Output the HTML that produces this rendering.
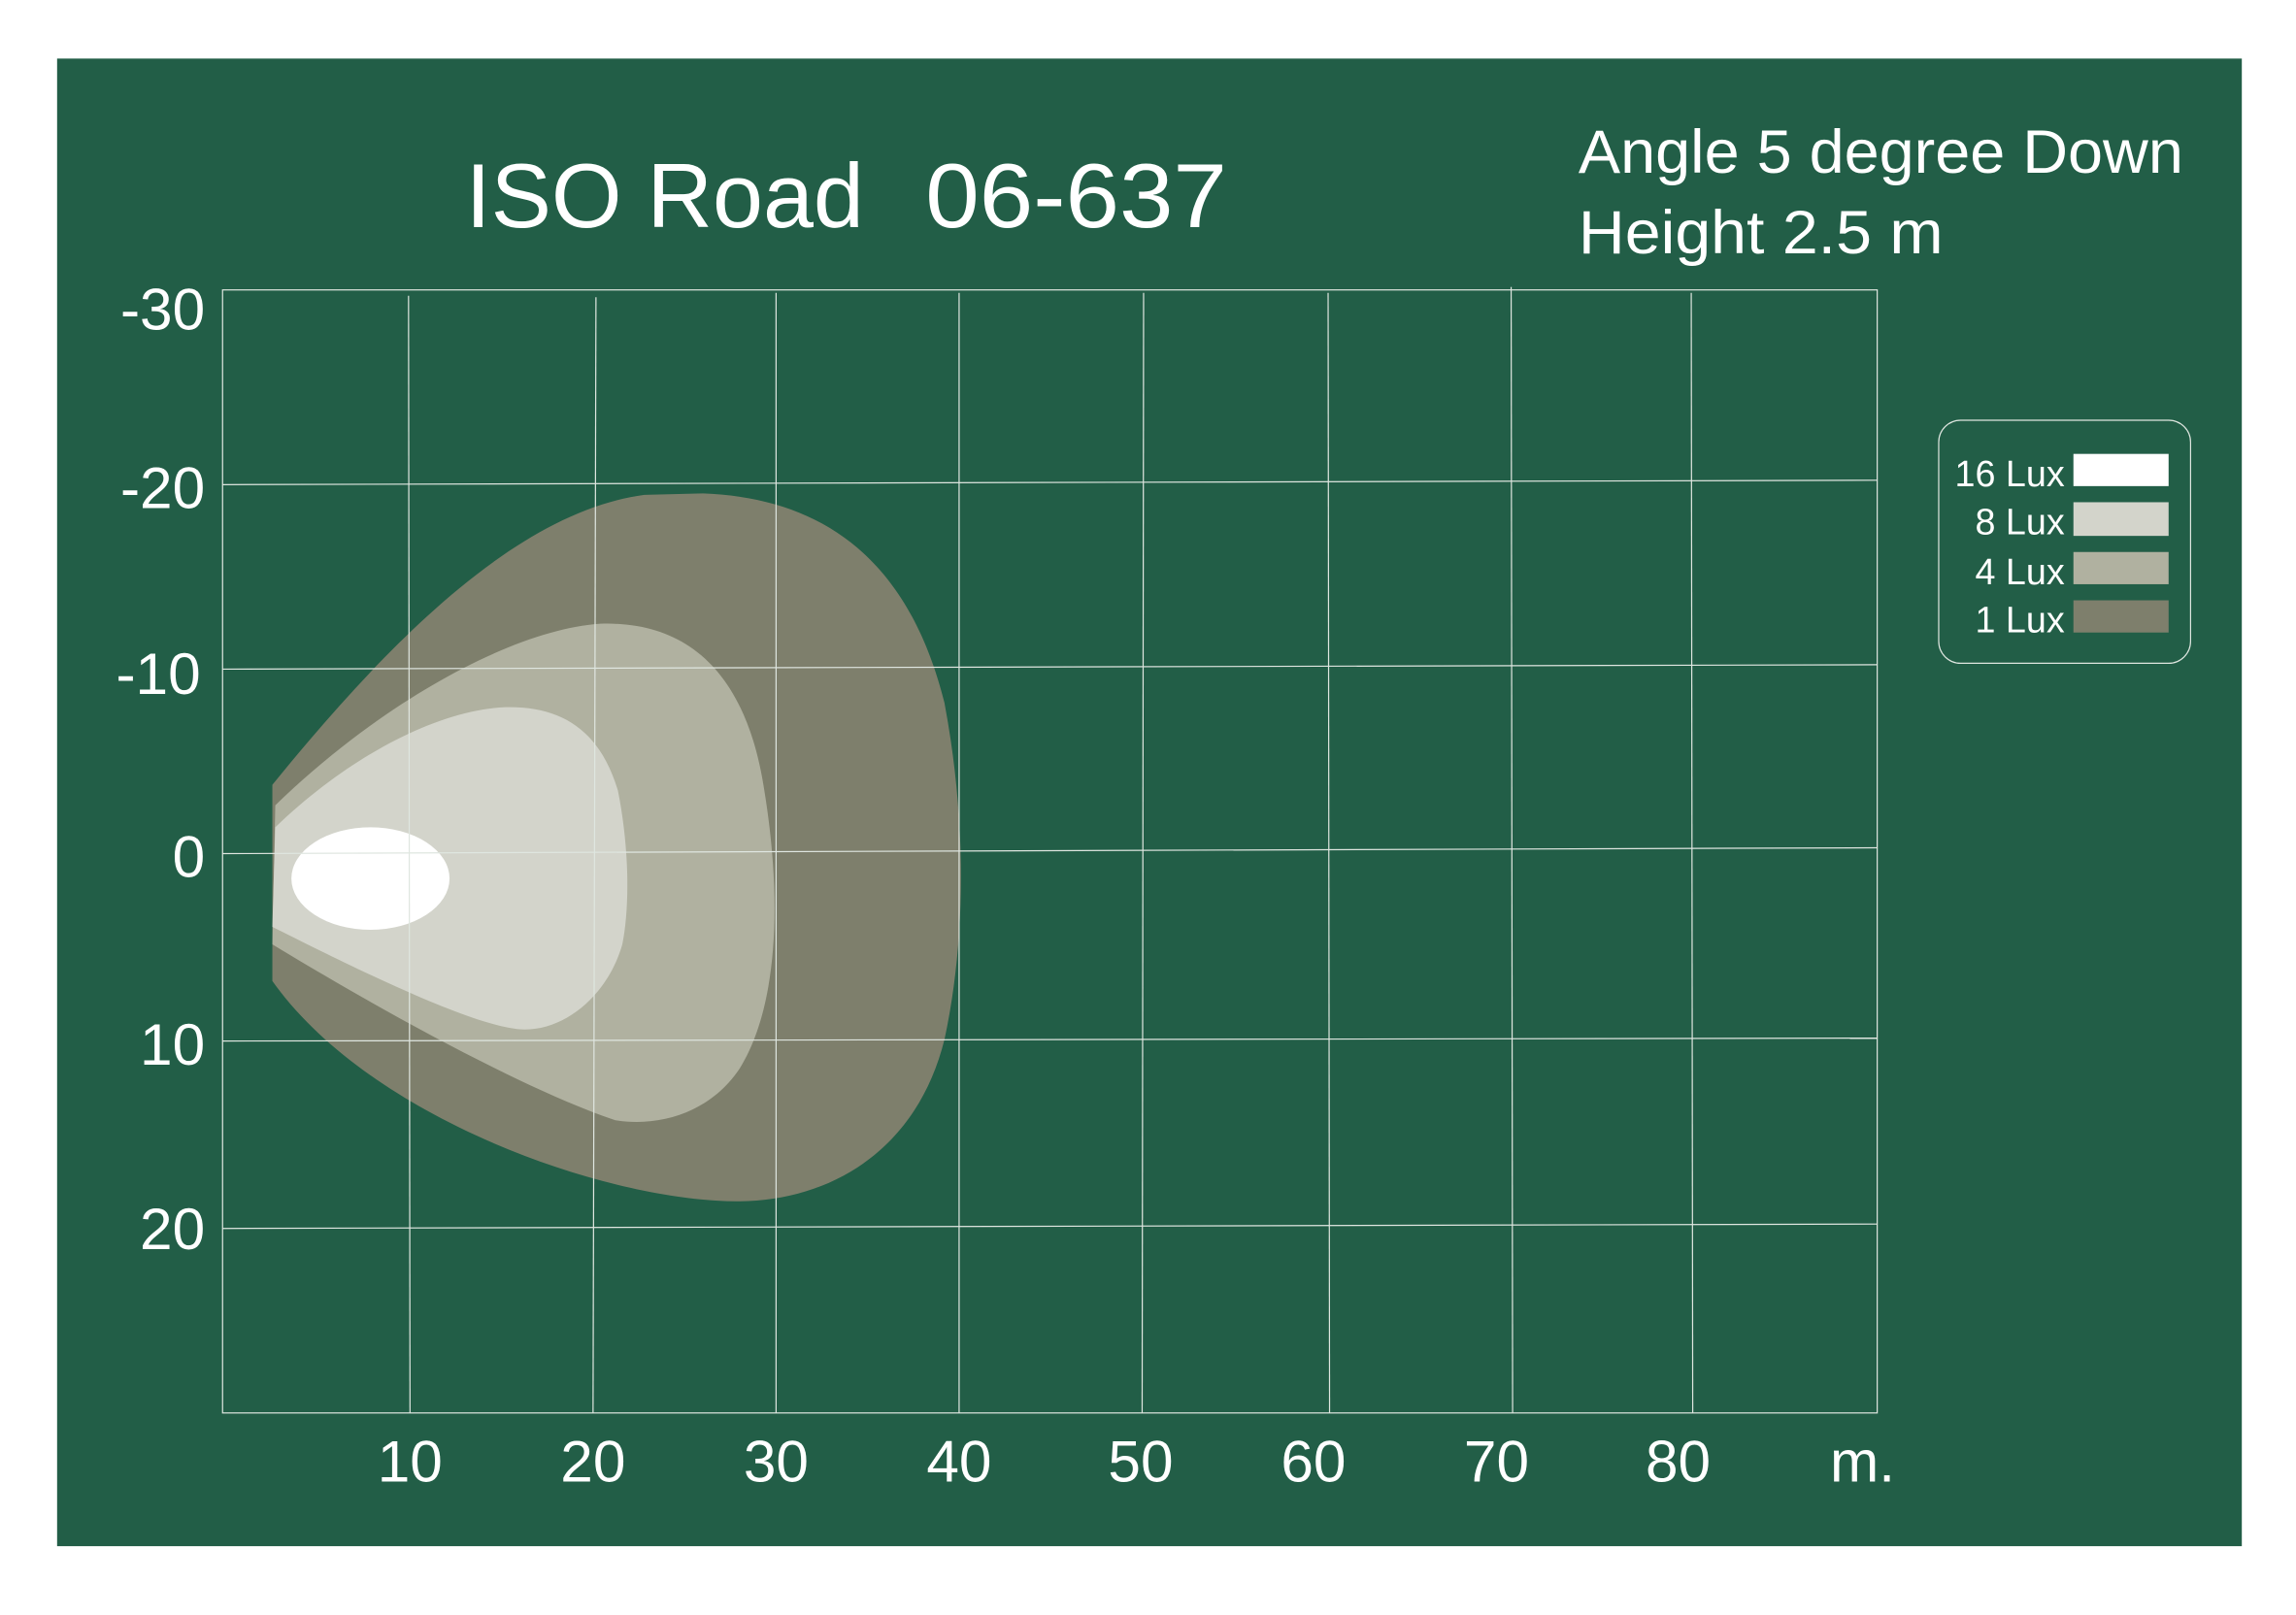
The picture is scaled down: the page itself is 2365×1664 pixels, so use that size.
<!DOCTYPE html>
<html><head><meta charset="utf-8"><style>
html,body{margin:0;padding:0;background:#fff;}
svg{display:block;}
text{font-family:"Liberation Sans","DejaVu Sans",sans-serif;fill:#fff;}
</style></head><body>
<svg width="2365" height="1664" viewBox="0 0 1568 1103" preserveAspectRatio="none" xmlns="http://www.w3.org/2000/svg">
<rect x="0" y="0" width="1568" height="1103" fill="#fff"/>
<rect x="39" y="40" width="1492" height="1016" fill="#225e47"/>
<path d="M186,536 C260,445 350,350 440,338 L480,337 C560,340 620,380 645,480 C660,560 660,640 645,710 C625,790 560,825 490,820 C400,815 250,760 186,670 Z" fill="#7e7f6c"/>
<path d="M188,550 C260,480 350,430 410,426 C470,424 510,460 522,540 C535,620 530,690 505,730 C485,760 450,770 420,765 C360,745 260,690 186,645 Z" fill="#b0b1a0"/>
<path d="M188,565 C240,515 300,485 345,483 C385,482 410,500 422,540 C430,580 430,620 425,645 C415,680 385,705 355,703 C320,700 240,660 186,633 Z" fill="#d3d4cb"/>
<ellipse cx="253" cy="600" rx="54" ry="35" fill="#fff"/>
<g stroke="#dfe6e0" stroke-width="0.8" fill="none">
<rect x="152" y="198" width="1130" height="767"/>
<line x1="152" y1="331" x2="1282" y2="328"/>
<line x1="152" y1="457" x2="1282" y2="454"/>
<line x1="152" y1="583" x2="1282" y2="579"/>
<line x1="152" y1="711" x2="1282" y2="709"/>
<line x1="152" y1="839" x2="1282" y2="836"/>
<line x1="279" y1="202" x2="280" y2="965"/>
<line x1="407" y1="203" x2="405" y2="965"/>
<line x1="530" y1="200" x2="530" y2="965"/>
<line x1="655" y1="200" x2="655" y2="965"/>
<line x1="781" y1="200" x2="780" y2="965"/>
<line x1="907" y1="200" x2="908" y2="965"/>
<line x1="1032" y1="196" x2="1033" y2="965"/>
<line x1="1155" y1="200" x2="1156" y2="965"/>
</g>
<text x="318" y="155" font-size="62" textLength="272" lengthAdjust="spacingAndGlyphs">ISO Road</text>
<text x="632" y="155" font-size="62" textLength="206" lengthAdjust="spacingAndGlyphs">06-637</text>
<text x="1078" y="118" font-size="42" textLength="413" lengthAdjust="spacingAndGlyphs">Angle 5 degree Down</text>
<text x="1078" y="173" font-size="42" textLength="249" lengthAdjust="spacingAndGlyphs">Height 2.5 m</text>
<g font-size="40" text-anchor="end">
<text x="140" y="225">-30</text>
<text x="140" y="347">-20</text>
<text x="137" y="474">-10</text>
<text x="140" y="599">0</text>
<text x="140" y="727">10</text>
<text x="140" y="853">20</text>
</g>
<g font-size="40" text-anchor="middle">
<text x="280" y="1012">10</text>
<text x="405" y="1012">20</text>
<text x="530" y="1012">30</text>
<text x="655" y="1012">40</text>
<text x="779" y="1012">50</text>
<text x="897" y="1012">60</text>
<text x="1022" y="1012">70</text>
<text x="1146" y="1012">80</text>
<text x="1272" y="1012">m.</text>
</g>
<rect x="1324" y="287" width="172" height="166" rx="15" fill="none" stroke="#dfe6e0" stroke-width="0.8"/>
<rect x="1416" y="310" width="65" height="22" fill="#fff"/>
<rect x="1416" y="343" width="65" height="23" fill="#d3d4cb"/>
<rect x="1416" y="377" width="65" height="22" fill="#b0b1a0"/>
<rect x="1416" y="410" width="65" height="22" fill="#7e7f6c"/>
<g font-size="25" text-anchor="end">
<text x="1410" y="332">16 Lux</text>
<text x="1410" y="365">8 Lux</text>
<text x="1410" y="399">4 Lux</text>
<text x="1410" y="432">1 Lux</text>
</g>
</svg>
</body></html>
